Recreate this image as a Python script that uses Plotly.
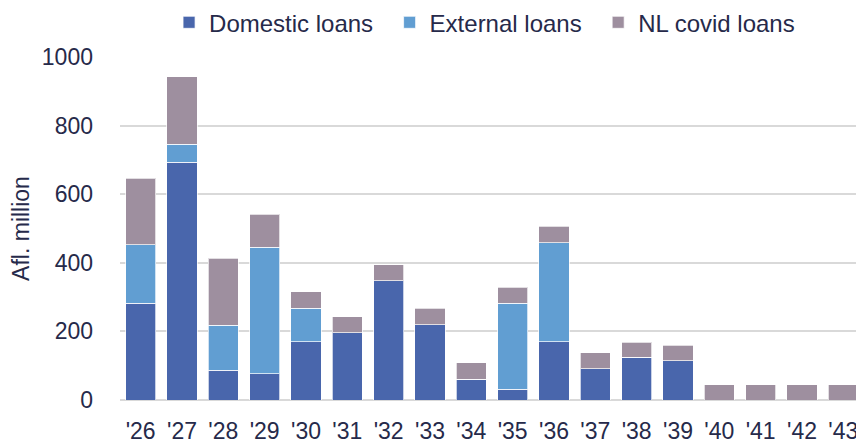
import plotly.graph_objects as go

years = ["'26", "'27", "'28", "'29", "'30", "'31", "'32", "'33", "'34", "'35",
         "'36", "'37", "'38", "'39", "'40", "'41", "'42", "'43"]
domestic = [282, 693, 87, 77, 170, 196, 347, 220, 61, 31, 170, 91, 124, 115, 0, 0, 0, 0]
external = [170, 53, 131, 369, 98, 0, 0, 0, 0, 251, 289, 0, 0, 0, 0, 0, 0, 0]
covid = [195, 196, 195, 95, 47, 46, 47, 47, 47, 47, 47, 47, 45, 45, 45, 45, 45, 45]

series_names = ["Domestic loans", "External loans", "NL covid loans"]
colors = ["#4966AC", "#619ED2", "#9E8F9F"]
y_ticks = [0, 200, 400, 600, 800, 1000]

text_color = "#262A4A"
font_family = "Liberation Sans, Arial, sans-serif"

# small spacer after the first two legend entries to widen item pitch
pad = ["\u00a0\u2009", "\u00a0\u2009", ""]

fig = go.Figure()
for name, vals, col, p in zip(series_names, [domestic, external, covid], colors, pad):
    fig.add_trace(go.Bar(
        x=years, y=vals, name=name + p,
        marker=dict(color=col, line=dict(color="rgba(255,255,255,0.7)", width=1)),
    ))

fig.update_layout(
    barmode="stack",
    bargap=0.27,
    width=856, height=433,
    margin=dict(l=112, r=0, t=49, b=41, autoexpand=False),
    paper_bgcolor="white",
    plot_bgcolor="white",
    font=dict(family=font_family, size=23, color=text_color),
    legend=dict(
        orientation="h", x=0.49, xanchor="center", y=1.10, yanchor="middle",
        font=dict(size=24, color=text_color), traceorder="normal",
        itemwidth=30,
    ),
    xaxis=dict(
        showgrid=False, showline=False, ticks="", automargin=False,
        ticklabelstandoff=15,
        tickfont=dict(size=23, color=text_color),
    ),
    yaxis=dict(
        range=[0, 1000], tickvals=y_ticks, automargin=False,
        showgrid=True, gridcolor="#D9D9D9", gridwidth=1.5,
        zeroline=True, zerolinecolor="#D9D9D9", zerolinewidth=1.5,
        showline=False, ticks="",
        ticklabelstandoff=26,
        tickfont=dict(size=23, color=text_color),
        title=dict(text="Afl. million", font=dict(size=23, color=text_color), standoff=10),
    ),
)

fig.write_html("out.html")
